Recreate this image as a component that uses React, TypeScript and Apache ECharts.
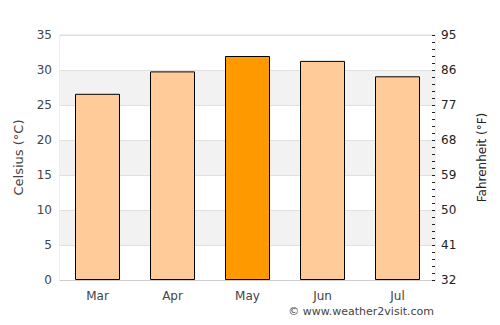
import React, { useEffect, useRef } from "react";
import * as echarts from "echarts";

const months = ["Mar", "Apr", "May", "Jun", "Jul"];
const celsius = [26.6, 29.8, 32.0, 31.3, 29.1];
const highlightIndex = 2;
const fahrenheitTicks = [32, 41, 50, 59, 68, 77, 86, 95];

export default function App() {
  const ref = useRef<HTMLDivElement>(null);
  useEffect(() => {
    if (!ref.current) return;
    const chart = echarts.init(ref.current, null, { renderer: "svg" });
    const font = "DejaVu Sans";
    chart.setOption({
      animation: false,
      textStyle: { fontFamily: font },
      grid: {
        left: 60,
        right: 65,
        top: 35,
        bottom: 45,
        show: true,
        borderColor: "#dddddd",
        borderWidth: 1,
      },
      xAxis: {
        type: "category",
        data: months,
        axisLine: { show: true, lineStyle: { color: "#cccccc" } },
        axisTick: { show: false },
        axisLabel: { color: "#444", fontSize: 12, fontFamily: font, margin: 10 },
      },
      yAxis: [
        {
          type: "value",
          min: 0,
          max: 35,
          interval: 5,
          name: "Celsius (°C)",
          nameLocation: "middle",
          nameGap: 35,
          nameTextStyle: { color: "#444", fontSize: 13, fontFamily: font },
          axisLine: { show: false },
          axisTick: { show: false },
          axisLabel: { color: "#444", fontSize: 12, fontFamily: font, margin: 8 },
          splitLine: { show: true, lineStyle: { color: "#e0e0e0" } },
          splitArea: { show: true, areaStyle: { color: ["#ffffff", "#f2f2f2"] } },
        },
        {
          type: "value",
          min: fahrenheitTicks[0],
          max: fahrenheitTicks[fahrenheitTicks.length - 1],
          interval: 9,
          position: "right",
          name: "Fahrenheit (°F)",
          nameLocation: "middle",
          nameGap: 41,
          nameTextStyle: { color: "#222", fontSize: 12, fontFamily: font },
          axisLine: { show: false },
          axisTick: { show: true, inside: true, length: 3, lineStyle: { color: "#222" } },
          minorTick: { show: true, splitNumber: 5, length: 3, lineStyle: { color: "#222" } },
          axisLabel: { color: "#222", fontSize: 12, fontFamily: font, margin: 6 },
          splitLine: { show: false },
        },
      ],
      series: [
        {
          type: "bar",
          yAxisIndex: 0,
          barWidth: "60%",
          data: celsius.map((v, i) => ({
            value: v,
            itemStyle: { color: i === highlightIndex ? "#ff9900" : "#ffcc99" },
          })),
          itemStyle: { borderColor: "#000", borderWidth: 1 },
        },
      ],
      graphic: [
        {
          type: "text",
          right: 66,
          top: 306,
          style: {
            text: "© www.weather2visit.com",
            fill: "#444",
            font: `11px "${font}"`,
          },
        },
      ],
    });
    return () => chart.dispose();
  }, []);
  return <div ref={ref} style={{ width: 500, height: 325, position: "absolute", left: 0, top: 0 }} />;
}
